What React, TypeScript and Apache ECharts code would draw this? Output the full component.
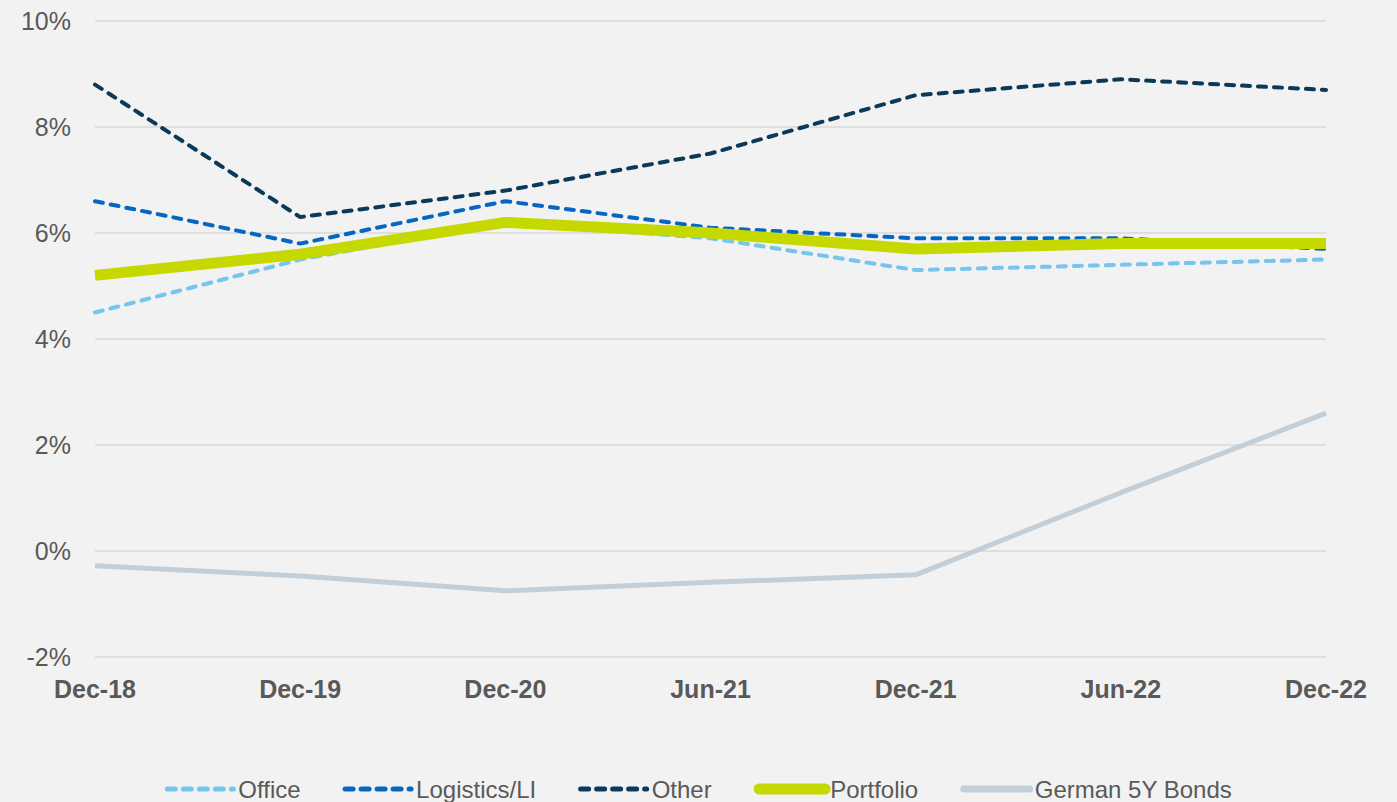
import React, { useEffect, useRef } from "react";
import * as echarts from "echarts";

const categories = ["Dec-18", "Dec-19", "Dec-20", "Jun-21", "Dec-21", "Jun-22", "Dec-22"];
const office = [4.5, 5.5, 6.2, 5.9, 5.3, 5.4, 5.5];
const logistics = [6.6, 5.8, 6.6, 6.1, 5.9, 5.9, 5.7];
const other = [8.8, 6.3, 6.8, 7.5, 8.6, 8.9, 8.7];
const portfolio = [5.2, 5.6, 6.2, 6.0, 5.7, 5.8, 5.8];
const bonds = [-0.28, -0.47, -0.75, -0.59, -0.45, 1.1, 2.6];

const FONT = "'Liberation Sans', Arial, sans-serif";

export default function App() {
  const ref = useRef<HTMLDivElement>(null);
  useEffect(() => {
    document.body.style.margin = "0";
    document.body.style.background = "#f2f2f2";
    const chart = echarts.init(ref.current!, null, { renderer: "svg" });
    const dashed = (color: string) => ({
      color,
      width: 4,
      type: [8, 8] as number[],
      cap: "round" as const,
    });
    chart.setOption({
      animation: false,
      backgroundColor: "#f2f2f2",
      textStyle: { fontFamily: FONT },
      grid: { left: 95, right: 71, top: 21, bottom: 145, containLabel: false },
      legend: {
        top: 776,
        left: "center",
        padding: 0,
        itemWidth: 66,
        itemHeight: 12,
        itemGap: 42,
        itemStyle: { opacity: 0 },
        textStyle: { fontSize: 24, lineHeight: 26, color: "#595959", fontFamily: FONT },
        data: [
          { name: "Office", lineStyle: { width: 5 } },
          { name: "Logistics/LI", lineStyle: { width: 5 } },
          { name: "Other", lineStyle: { width: 5 } },
          { name: "Portfolio", lineStyle: { width: 11, cap: "round" } },
          { name: "German 5Y Bonds", lineStyle: { width: 7, cap: "round" } },
        ],
      },
      xAxis: {
        type: "category",
        data: categories,
        boundaryGap: false,
        axisLine: { show: false },
        axisTick: { show: false },
        axisLabel: {
          fontSize: 25,
          fontWeight: "bold",
          color: "#595959",
          margin: 19,
          fontFamily: FONT,
        },
      },
      yAxis: {
        type: "value",
        min: -2,
        max: 10,
        interval: 2,
        axisLine: { show: false },
        axisTick: { show: false },
        splitLine: { lineStyle: { color: "#d9d9d9", width: 1.5 } },
        axisLabel: {
          fontSize: 25,
          color: "#595959",
          margin: 24,
          fontFamily: FONT,
          formatter: (v: number) => `${v}%`,
        },
      },
      series: [
        { name: "Office", type: "line", data: office, symbol: "none", lineStyle: dashed("#75c5ec"), itemStyle: { color: "#75c5ec" } },
        { name: "Logistics/LI", type: "line", data: logistics, symbol: "none", lineStyle: dashed("#0866c3"), itemStyle: { color: "#0866c3" } },
        { name: "Other", type: "line", data: other, symbol: "none", lineStyle: dashed("#0b3a58"), itemStyle: { color: "#0b3a58" } },
        { name: "Portfolio", type: "line", data: portfolio, symbol: "none", lineStyle: { color: "#c5d800", width: 11, cap: "butt" }, itemStyle: { color: "#c5d800" } },
        { name: "German 5Y Bonds", type: "line", data: bonds, symbol: "none", lineStyle: { color: "#c3cfd8", width: 5 }, itemStyle: { color: "#c3cfd8" } },
      ],
    });
    return () => chart.dispose();
  }, []);
  return <div ref={ref} style={{ width: 1397, height: 802, background: "#f2f2f2" }} />;
}
